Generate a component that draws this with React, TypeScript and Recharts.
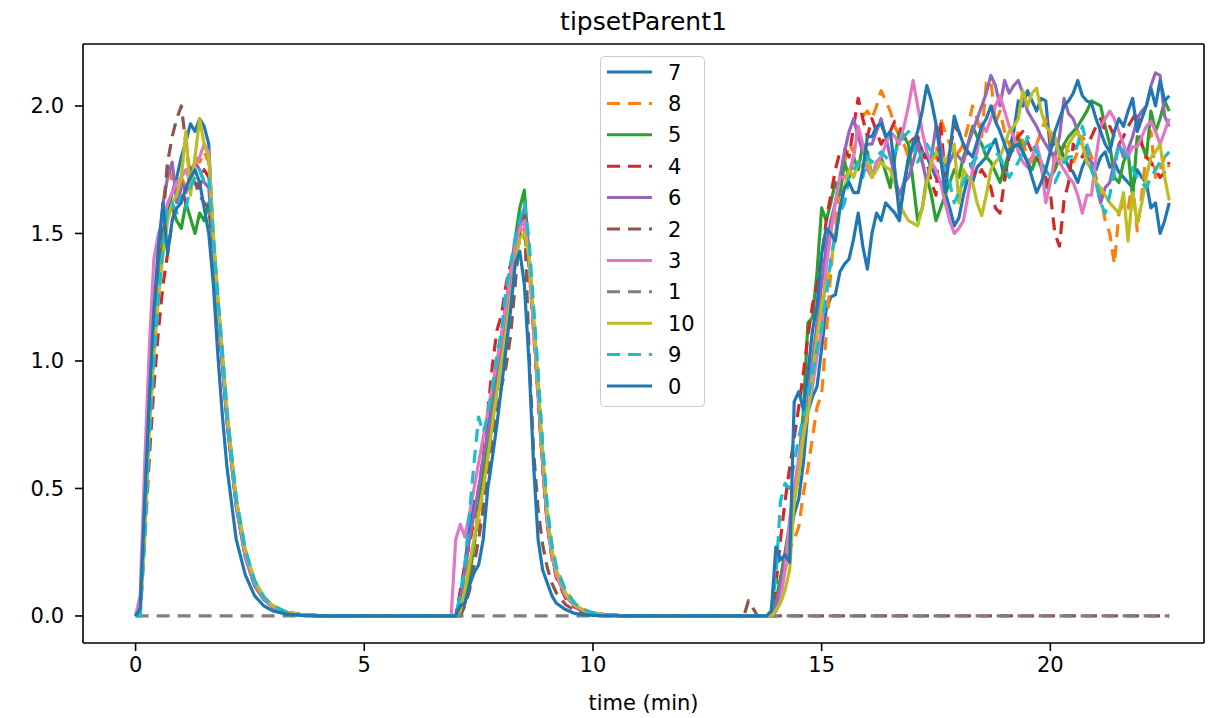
import React from 'react';
import { Legend, Line, LineChart, ReferenceLine, XAxis, YAxis } from 'recharts';

// x grid (minutes); denser where the curves move
const TIME = [
  0, 0.1, 0.2, 0.3, 0.4, 0.5, 0.6, 0.7, 0.8, 0.9, 1.0, 1.1, 1.2, 1.3, 1.4, 1.5, 1.6, 1.7, 1.8, 1.9, 2.0,
  2.2, 2.4, 2.6, 2.8, 3.0, 3.3, 3.6, 4.0,
  5.0, 6.0, 6.9,
  7.0, 7.1, 7.2, 7.3, 7.4, 7.5, 7.6, 7.7, 7.8, 7.9, 8.0, 8.1, 8.2, 8.3, 8.4, 8.5, 8.6, 8.7, 8.8, 8.9, 9.0, 9.1, 9.2,
  9.4, 9.6, 9.8, 10.0, 10.3, 10.6, 11.0,
  12.0, 13.0, 13.3,
  13.4, 13.5, 13.6, 13.7, 13.8, 13.9, 14.0, 14.1, 14.2, 14.3, 14.4, 14.5, 14.6, 14.7, 14.8, 14.9, 15.0,
  15.1, 15.2, 15.3, 15.4, 15.5, 15.6, 15.7, 15.8, 15.9, 16.0,
  16.1, 16.2, 16.3, 16.4, 16.5, 16.6, 16.7, 16.8, 16.9, 17.0,
  17.1, 17.2, 17.3, 17.4, 17.5, 17.6, 17.7, 17.8, 17.9, 18.0,
  18.1, 18.2, 18.3, 18.4, 18.5, 18.6, 18.7, 18.8, 18.9, 19.0,
  19.1, 19.2, 19.3, 19.4, 19.5, 19.6, 19.7, 19.8, 19.9, 20.0,
  20.1, 20.2, 20.3, 20.4, 20.5, 20.6, 20.7, 20.8, 20.9, 21.0,
  21.1, 21.2, 21.3, 21.4, 21.5, 21.6, 21.7, 21.8, 21.9, 22.0,
  22.1, 22.2, 22.3, 22.4, 22.5, 22.6,
];

const S7 = [
  0, 0.03, 0.42, 0.82, 1.12, 1.33, 1.48, 1.58, 1.66, 1.72, 1.8, 1.86, 1.93, 1.9, 1.95, 1.92, 1.85, 1.45, 1.2, 0.98, 0.76,
  0.44, 0.24, 0.13, 0.07, 0.037, 0.014, 0.005, 0.001,
  0, 0, 0,
  0, 0.08, 0.2, 0.35, 0.45, 0.42, 0.6, 0.72, 0.85, 0.98, 1.1, 1.22, 1.35, 1.45, 1.52, 1.58, 1.4, 1.15, 0.88, 0.6, 0.38, 0.25, 0.16,
  0.08, 0.04, 0.02, 0.01, 0.004, 0.001, 0,
  0, 0, 0,
  0, 0, 0, 0, 0, 0, 0.02, 0.12, 0.2, 0.3, 0.4, 0.46, 0.6, 0.8, 0.86, 0.9, 1.05,
  1.2, 1.25, 1.26, 1.35, 1.38, 1.4, 1.48, 1.58, 1.45, 1.36,
  1.5, 1.58, 1.55, 1.62, 1.6, 1.58, 1.55, 1.7, 1.79, 1.84,
  1.87, 1.82, 1.8, 1.76, 1.72, 1.7, 1.66, 1.6, 1.53, 1.56,
  1.65, 1.72, 1.7, 1.76, 1.78, 1.8, 1.84, 1.87, 1.8, 1.71,
  1.82, 1.9, 2.02, 2.0, 2.06, 2.02, 1.98, 2.03, 2.02, 1.83,
  1.86, 1.84, 1.8, 1.76, 1.74, 1.7, 1.76, 1.8, 1.78, 1.75,
  1.8, 1.82, 1.76, 1.78, 1.74, 1.72, 1.7, 1.68, 1.75, 1.72,
  1.7, 1.6, 1.62, 1.5, 1.55, 1.62,
];

const S8 = [
  0, 0.02, 0.38, 0.78, 1.08, 1.32, 1.55, 1.78, 1.7, 1.66, 1.72, 1.68, 1.75, 1.8, 1.78, 1.82, 1.78, 1.48, 1.24, 1.02, 0.8,
  0.46, 0.26, 0.14, 0.075, 0.04, 0.015, 0.005, 0.001,
  0, 0, 0,
  0, 0.04, 0.14, 0.22, 0.28, 0.35, 0.5, 0.62, 0.75, 0.88, 1.0, 1.12, 1.25, 1.38, 1.5, 1.55, 1.45, 1.2, 0.95, 0.66, 0.42, 0.28, 0.19,
  0.1, 0.05, 0.025, 0.012, 0.005, 0.002, 0,
  0, 0, 0,
  0, 0, 0, 0, 0, 0, 0.03, 0.1, 0.18, 0.26, 0.3, 0.35, 0.48, 0.58, 0.7, 0.82, 0.87,
  1.1, 1.35, 1.52, 1.7, 1.78, 1.85, 1.82, 1.92, 1.96, 1.98,
  1.95, 2.0, 2.06, 2.02, 1.98, 1.92, 1.88, 1.85, 1.8, 1.82,
  1.85, 1.78, 1.72, 1.76, 1.8, 1.95, 1.9, 1.85, 1.8, 1.82,
  1.85, 1.92, 2.0, 1.95, 1.88, 2.09, 2.1, 1.93, 1.98, 1.9,
  1.85, 1.82, 1.9, 1.86, 1.8, 1.78, 1.85, 1.9, 1.95, 1.88,
  1.75, 1.8, 1.85, 1.82, 1.78, 1.82, 1.88, 1.85, 1.8, 1.72,
  1.65, 1.55, 1.5, 1.38, 1.58, 1.62, 1.6, 1.7, 1.51, 1.65,
  1.82, 1.9, 1.72, 1.75, 1.8, 1.76,
];

const S5 = [
  0, 0.03, 0.4, 0.8, 1.1, 1.35, 1.5, 1.58, 1.6, 1.55, 1.52, 1.62, 1.56, 1.5, 1.58, 1.55, 1.62, 1.44, 1.2, 0.99, 0.77,
  0.43, 0.23, 0.12, 0.065, 0.035, 0.013, 0.004, 0.001,
  0, 0, 0,
  0, 0, 0.05, 0.15, 0.28, 0.42, 0.55, 0.68, 0.82, 0.95, 1.08, 1.2, 1.35, 1.48, 1.6, 1.67, 1.42, 1.15, 0.88, 0.6, 0.37, 0.24, 0.16,
  0.08, 0.04, 0.02, 0.01, 0.004, 0.001, 0,
  0, 0, 0,
  0, 0, 0, 0, 0, 0, 0.06, 0.15, 0.25, 0.36, 0.48, 0.6, 0.8, 1.15, 1.17, 1.35, 1.6,
  1.55, 1.62, 1.7, 1.65, 1.78, 1.72, 1.8, 1.75, 1.85, 1.82,
  1.72, 1.78, 1.8, 1.74, 1.68, 1.8, 1.9, 1.88, 1.85, 1.7,
  1.55, 1.6, 1.72, 1.65, 1.55, 1.6, 1.65, 1.7, 1.75, 1.72,
  1.8, 1.85, 1.92, 1.88, 1.85, 1.8, 1.78, 1.74, 1.7, 1.76,
  1.82, 1.85, 1.88, 1.82, 1.78, 1.75, 1.8, 1.76, 1.68, 1.72,
  1.75, 1.8, 1.85, 1.88, 1.9, 1.92, 1.95, 1.98, 2.02, 2.01,
  2.0, 1.92, 1.85, 1.72, 1.7, 1.78, 1.82, 1.64, 1.88, 1.85,
  1.8, 1.98, 1.9, 1.95, 2.02, 1.98,
];

const S4 = [
  0, 0.01, 0.3, 0.62, 0.9, 1.12, 1.3, 1.42, 1.55, 1.62, 1.68, 1.62, 1.7, 1.72, 1.68, 1.75, 1.72, 1.46, 1.22, 1.0, 0.78,
  0.44, 0.24, 0.13, 0.07, 0.037, 0.014, 0.005, 0.001,
  0, 0, 0,
  0, 0.1, 0.2, 0.28, 0.38, 0.5, 0.62, 0.8, 0.98, 1.12, 1.18, 1.3, 1.38, 1.45, 1.5, 1.5, 1.38, 1.12, 0.86, 0.58, 0.36, 0.23, 0.15,
  0.07, 0.035, 0.017, 0.008, 0.003, 0.001, 0,
  0, 0, 0,
  0, 0, 0, 0, 0, 0.02, 0.12, 0.3, 0.45, 0.58, 0.7, 0.82, 0.95, 1.1, 1.22, 1.3, 1.4,
  1.55, 1.65, 1.75, 1.82, 1.83, 1.8, 1.92, 2.03, 1.95, 1.88,
  1.95, 1.9, 1.85, 1.88, 1.9, 1.94, 1.92, 1.88, 1.85, 1.87,
  1.88, 1.82, 1.78, 1.7, 1.65, 1.94, 1.72, 1.82, 1.92, 1.9,
  1.85, 1.8, 1.75, 1.72, 1.75, 1.72, 1.68, 1.6, 1.58, 1.71,
  1.8, 1.85, 1.88, 1.9, 1.86, 1.82, 1.8, 1.78, 1.72, 1.66,
  1.5, 1.45, 1.63, 1.7, 1.85, 1.82, 1.8, 1.84, 1.88, 1.92,
  1.95, 1.9, 1.92, 1.88, 1.85, 1.88, 1.92, 1.95, 1.98, 1.85,
  1.8, 1.78, 1.75, 1.72, 1.74, 1.78,
];

const S6 = [
  0, 0.03, 0.45, 0.85, 1.15, 1.4, 1.62, 1.72, 1.78, 1.62, 1.7, 1.66, 1.74, 1.78, 1.75, 1.7, 1.68, 1.45, 1.2, 0.98, 0.76,
  0.43, 0.23, 0.12, 0.065, 0.035, 0.013, 0.004, 0.001,
  0, 0, 0,
  0, 0.06, 0.18, 0.3, 0.4, 0.5, 0.62, 0.72, 0.8, 0.92, 1.05, 1.2, 1.32, 1.45, 1.55, 1.6, 1.42, 1.15, 0.88, 0.6, 0.37, 0.24, 0.16,
  0.08, 0.04, 0.02, 0.01, 0.004, 0.001, 0,
  0, 0, 0,
  0, 0, 0, 0, 0, 0, 0.04, 0.12, 0.22, 0.33, 0.45, 0.58, 0.72, 0.85, 1.0, 1.15, 1.3,
  1.45, 1.55, 1.62, 1.72, 1.82, 1.9, 1.95, 1.88, 1.82, 1.85,
  1.85, 1.9, 1.95, 1.88, 1.8, 1.72, 1.65, 1.7, 1.72, 1.78,
  1.85, 1.78, 1.7, 1.8, 1.92, 1.85, 1.75, 1.78, 1.82, 1.8,
  1.78, 1.85, 1.9, 1.95, 2.0, 2.05, 2.12, 2.08, 2.0, 2.1,
  2.05, 2.08, 2.1, 2.05, 1.98, 1.95, 1.92, 1.88, 1.85, 1.82,
  1.8, 1.88, 2.03, 1.97, 1.95, 1.9, 1.85, 1.8, 1.78, 1.7,
  1.62, 1.68, 1.7, 1.78, 1.85, 1.8, 1.83, 1.88, 1.95, 1.98,
  2.0, 2.08, 2.13, 2.12, 1.96, 1.92,
];

const S2 = [
  0, 0.02, 0.42, 0.82, 1.12, 1.38, 1.58, 1.78, 1.88, 1.95, 2.0, 1.85, 1.72, 1.7, 1.65, 1.62, 1.6, 1.42, 1.2, 0.99, 0.78,
  0.45, 0.25, 0.13, 0.07, 0.038, 0.015, 0.005, 0.001,
  0, 0, 0,
  0, 0, 0.04, 0.1, 0.2, 0.3, 0.42, 0.55, 0.68, 0.8, 0.9, 0.98, 1.1, 1.3, 1.5, 1.57, 1.05, 0.65, 0.42, 0.28, 0.19, 0.13, 0.09,
  0.045, 0.022, 0.011, 0.005, 0.002, 0, 0,
  0, 0, 0,
  0.06, 0.03, 0, 0, 0, 0, 0, 0, 0, 0, 0, 0, 0, 0, 0, 0, 0,
  0, 0, 0, 0, 0, 0, 0, 0, 0, 0,
  0, 0, 0, 0, 0, 0, 0, 0, 0, 0,
  0, 0, 0, 0, 0, 0, 0, 0, 0, 0,
  0, 0, 0, 0, 0, 0, 0, 0, 0, 0,
  0, 0, 0, 0, 0, 0, 0, 0, 0, 0,
  0, 0, 0, 0, 0, 0, 0, 0, 0, 0,
  0, 0, 0, 0, 0, 0, 0, 0, 0, 0,
  0, 0, 0, 0, 0, 0,
];

const S3 = [
  0, 0.08, 0.6, 1.05, 1.4, 1.5, 1.55, 1.62, 1.66, 1.7, 1.72, 1.75, 1.7, 1.78, 1.8, 1.85, 1.82, 1.48, 1.22, 1.0, 0.78,
  0.44, 0.24, 0.13, 0.07, 0.037, 0.014, 0.005, 0.001,
  0, 0, 0,
  0.3, 0.36, 0.31, 0.4, 0.5, 0.6, 0.7, 0.8, 0.9, 1.0, 1.1, 1.22, 1.35, 1.45, 1.52, 1.55, 1.4, 1.13, 0.87, 0.6, 0.37, 0.24, 0.16,
  0.08, 0.04, 0.02, 0.01, 0.004, 0.001, 0,
  0, 0, 0,
  0, 0, 0, 0, 0, 0, 0.02, 0.06, 0.18, 0.38, 0.5, 0.62, 0.72, 0.8, 0.9, 1.02, 1.12,
  1.37, 1.5, 1.62, 1.72, 1.72, 1.74, 1.8, 1.92, 1.85, 1.75,
  1.72, 1.78, 1.8, 1.85, 1.9, 1.88, 1.85, 1.92, 2.0, 2.1,
  2.0, 1.9, 1.82, 1.78, 1.75, 1.7, 1.62, 1.55, 1.5, 1.52,
  1.55, 1.65, 1.75, 1.82, 1.93, 1.9, 1.95, 2.0, 2.04, 1.98,
  1.92, 1.88, 1.82, 1.78, 1.76, 1.8, 1.85, 1.78, 1.62, 1.7,
  1.8, 1.78, 1.75, 1.72, 1.7, 1.65, 1.58, 1.65, 1.65, 1.8,
  1.92, 1.95, 1.98, 1.95, 1.9, 1.85, 1.8, 1.84, 1.84, 1.88,
  1.92, 1.94, 1.9, 1.85, 1.9, 1.95,
];

const S1 = [
  0, 0, 0, 0, 0, 0, 0, 0, 0, 0, 0, 0, 0, 0, 0, 0, 0, 0, 0, 0, 0,
  0, 0, 0, 0, 0, 0, 0, 0,
  0, 0, 0,
  0, 0, 0, 0, 0, 0, 0, 0, 0, 0, 0, 0, 0, 0, 0, 0, 0, 0, 0, 0, 0, 0, 0,
  0, 0, 0, 0, 0, 0, 0,
  0, 0, 0,
  0, 0, 0, 0, 0, 0, 0, 0, 0, 0, 0, 0, 0, 0, 0, 0, 0,
  0, 0, 0, 0, 0, 0, 0, 0, 0, 0,
  0, 0, 0, 0, 0, 0, 0, 0, 0, 0,
  0, 0, 0, 0, 0, 0, 0, 0, 0, 0,
  0, 0, 0, 0, 0, 0, 0, 0, 0, 0,
  0, 0, 0, 0, 0, 0, 0, 0, 0, 0,
  0, 0, 0, 0, 0, 0, 0, 0, 0, 0,
  0, 0, 0, 0, 0, 0, 0, 0, 0, 0,
  0, 0, 0, 0, 0, 0,
];

const S10 = [
  0, 0, 0.3, 0.72, 1.02, 1.25, 1.42, 1.55, 1.62, 1.65, 1.72, 1.9, 1.65, 1.8, 1.95, 1.85, 1.8, 1.5, 1.25, 1.03, 0.8,
  0.46, 0.26, 0.14, 0.075, 0.04, 0.015, 0.005, 0.001,
  0, 0, 0,
  0, 0.02, 0.1, 0.2, 0.3, 0.4, 0.5, 0.62, 0.75, 0.88, 1.0, 1.12, 1.25, 1.38, 1.48, 1.5, 1.42, 1.18, 0.92, 0.64, 0.4, 0.26, 0.18,
  0.09, 0.045, 0.022, 0.011, 0.004, 0.001, 0,
  0, 0, 0,
  0, 0, 0, 0, 0, 0, 0.02, 0.05, 0.1, 0.18, 0.45, 0.55, 0.7, 0.8, 0.95, 1.1, 1.22,
  1.3, 1.38, 1.5, 1.6, 1.68, 1.75, 1.72, 1.78, 1.76, 1.8,
  1.72, 1.75, 1.78, 1.76, 1.75, 1.7, 1.62, 1.58, 1.55, 1.54,
  1.53, 1.6, 1.7, 1.78, 1.82, 1.8, 1.78, 1.82, 1.85, 1.62,
  1.75, 1.72, 1.7, 1.62, 1.57, 1.65, 1.75, 1.78, 1.8, 1.85,
  1.9, 1.92, 1.95, 2.06, 2.0, 2.05, 2.07, 1.98, 1.92, 1.9,
  1.88, 1.8, 1.78, 1.85, 1.88, 1.9, 1.85, 1.78, 1.75, 1.7,
  1.68, 1.65, 1.62, 1.6, 1.58, 1.66, 1.47, 1.66, 1.54, 1.62,
  1.72, 1.8, 1.82, 1.85, 1.72, 1.63,
];

const S9 = [
  0, 0, 0.32, 0.7, 1.0, 1.25, 1.45, 1.6, 1.62, 1.58, 1.65, 1.6, 1.68, 1.72, 1.75, 1.7, 1.72, 1.48, 1.25, 1.03, 0.8,
  0.46, 0.26, 0.14, 0.075, 0.04, 0.015, 0.005, 0.001,
  0, 0, 0,
  0, 0.08, 0.2, 0.4, 0.6, 0.78, 0.72, 0.78, 0.9, 1.02, 1.12, 1.28, 1.38, 1.48, 1.55, 1.62, 1.48, 1.22, 0.95, 0.67, 0.43, 0.28, 0.19,
  0.1, 0.05, 0.025, 0.012, 0.005, 0.002, 0,
  0, 0, 0,
  0, 0, 0, 0, 0, 0.02, 0.15, 0.45, 0.52, 0.5, 0.6, 0.7, 0.78, 0.85, 0.95, 1.05, 1.13,
  1.25, 1.4, 1.5, 1.58, 1.62, 1.72, 1.75, 1.78, 1.72, 1.8,
  1.78, 1.8, 1.82, 1.8, 1.78, 1.82, 1.85, 1.88, 1.9, 1.85,
  1.78, 1.82, 1.85, 1.82, 1.8, 1.78, 1.75, 1.7, 1.62, 1.66,
  1.7, 1.74, 1.78, 1.8, 1.82, 1.84, 1.85, 1.82, 1.8, 1.76,
  1.72, 1.75, 1.78, 1.82, 1.88, 1.85, 1.82, 1.78, 1.75, 1.72,
  1.7, 1.74, 1.78, 1.8, 1.8, 1.85, 1.92, 1.85, 1.75, 1.7,
  1.62, 1.58, 1.65, 1.75, 1.85, 1.82, 1.8, 1.75, 1.72, 1.7,
  1.68, 1.72, 1.75, 1.78, 1.8, 1.82,
];

const S0 = [
  0, 0.03, 0.45, 0.85, 1.2, 1.45, 1.62, 1.42, 1.55, 1.6, 1.62, 1.68, 1.72, 1.75, 1.7, 1.6, 1.5, 1.3, 1.02, 0.78, 0.58,
  0.3, 0.16, 0.08, 0.04, 0.02, 0.007, 0.002, 0,
  0, 0, 0,
  0, 0.04, 0.05, 0.12, 0.17, 0.2, 0.3, 0.5, 0.62, 0.75, 0.9, 1.05, 1.2, 1.38, 1.43, 1.3, 1.0, 0.6, 0.3, 0.18, 0.13, 0.08, 0.05,
  0.025, 0.01, 0.005, 0.002, 0, 0, 0,
  0, 0, 0,
  0, 0, 0, 0, 0, 0.02, 0.27, 0.22, 0.24, 0.21, 0.84, 0.88, 0.81, 0.95, 1.12, 1.22, 1.42,
  1.52, 1.5, 1.47, 1.6, 1.68, 1.7, 1.66, 1.66, 1.75, 1.88,
  1.88, 1.92, 1.93, 1.88, 1.9, 1.75, 1.57, 1.68, 1.8, 1.85,
  1.9, 1.98, 2.08, 2.02, 1.93, 1.8, 1.66, 1.82, 1.96, 1.9,
  1.85, 1.82, 1.8, 1.86, 1.92, 1.95, 2.0, 1.94, 1.9, 1.85,
  1.8, 1.84, 1.85, 1.82, 1.78, 1.72, 1.66, 1.7, 1.75, 1.82,
  1.9, 1.95, 2.0, 2.02, 2.05, 2.1, 2.04, 2.02, 2.01, 1.95,
  1.9, 1.85, 1.82, 1.9, 1.95, 1.92, 1.98, 2.03, 1.9, 1.95,
  2.0, 2.07, 2.0, 2.1, 2.02, 2.04,
];

// legend order = draw order
const SERIES = [
  { key: 's7', label: '7', values: S7, color: '#1f77b4', dashed: false },
  { key: 's8', label: '8', values: S8, color: '#ff7f0e', dashed: true },
  { key: 's5', label: '5', values: S5, color: '#2ca02c', dashed: false },
  { key: 's4', label: '4', values: S4, color: '#d62728', dashed: true },
  { key: 's6', label: '6', values: S6, color: '#9467bd', dashed: false },
  { key: 's2', label: '2', values: S2, color: '#8c564b', dashed: true },
  { key: 's3', label: '3', values: S3, color: '#e377c2', dashed: false },
  { key: 's1', label: '1', values: S1, color: '#7f7f7f', dashed: true },
  { key: 's10', label: '10', values: S10, color: '#bcbd22', dashed: false },
  { key: 's9', label: '9', values: S9, color: '#17becf', dashed: true },
  { key: 's0', label: '0', values: S0, color: '#1f77b4', dashed: false },
];

const X_TICKS = [0, 5, 10, 15, 20];
const Y_TICKS = [0, 0.5, 1, 1.5, 2];
const X_DOMAIN: [number, number] = [-1.15, 23.36];
const Y_DOMAIN: [number, number] = [-0.106, 2.243];

const FONT = 'DejaVu Sans';
const DASH = '13 8';

const rows = TIME.map((t, i) => {
  const row: Record<string, number> = { t };
  SERIES.forEach((s) => {
    row[s.key] = s.values[i];
  });
  return row;
});

const LegendBox = () => (
  <svg width={106} height={352}>
    <rect x={0.5} y={0.5} width={104} height={350} rx={4} fill="rgba(255,255,255,0.8)" stroke="#cccccc" />
    {SERIES.map((s, i) => {
      const cy = 16 + i * 31.4;
      return (
        <g key={s.key}>
          <line
            x1={7}
            x2={52}
            y1={cy}
            y2={cy}
            stroke={s.color}
            strokeWidth={3}
            strokeDasharray={s.dashed ? DASH : undefined}
          />
          <text x={68} y={cy + 7.5} fontSize={21} fontFamily={FONT} fill="#000">
            {s.label}
          </text>
        </g>
      );
    })}
  </svg>
);

const tickStyle = { fill: '#000', fontSize: 21, fontFamily: FONT };
const axisStroke = { stroke: '#000', strokeWidth: 1.6 };

export default function App() {
  return (
    <div style={{ position: 'absolute', left: 0, top: 0, width: 1217, height: 718, background: '#fff' }}>
      <div
        style={{
          position: 'absolute',
          left: 83,
          width: 1121,
          top: 7,
          textAlign: 'center',
          fontFamily: FONT,
          fontSize: 25,
          color: '#000',
          zIndex: 2,
        }}
      >
        tipsetParent1
      </div>
      <div
        style={{
          position: 'absolute',
          left: 83,
          width: 1121,
          top: 691,
          textAlign: 'center',
          fontFamily: FONT,
          fontSize: 21,
          color: '#000',
          zIndex: 2,
        }}
      >
        time (min)
      </div>
      <LineChart width={1217} height={718} data={rows} margin={{ top: 44, right: 13, bottom: 30, left: 23 }}>
        <XAxis
          dataKey="t"
          type="number"
          domain={X_DOMAIN}
          allowDataOverflow
          ticks={X_TICKS}
          height={45}
          tick={tickStyle}
          tickSize={8}
          tickMargin={6}
          axisLine={axisStroke}
          tickLine={axisStroke}
        />
        <YAxis
          type="number"
          domain={Y_DOMAIN}
          allowDataOverflow
          ticks={Y_TICKS}
          width={60}
          tick={tickStyle}
          tickSize={8}
          tickMargin={11}
          tickFormatter={(v: number) => v.toFixed(1)}
          axisLine={axisStroke}
          tickLine={axisStroke}
        />
        <ReferenceLine x={X_DOMAIN[1]} stroke="#000" strokeWidth={1.6} />
        <ReferenceLine y={Y_DOMAIN[1]} stroke="#000" strokeWidth={1.6} />
        {SERIES.map((s) => (
          <Line
            key={s.key}
            type="linear"
            dataKey={s.key}
            name={s.label}
            stroke={s.color}
            strokeWidth={3.2}
            strokeDasharray={s.dashed ? DASH : undefined}
            strokeLinejoin="round"
            dot={false}
            activeDot={false}
            isAnimationActive={false}
          />
        ))}
        <Legend
          layout="vertical"
          align="center"
          verticalAlign="middle"
          wrapperStyle={{ left: 600, top: 56, width: 106, height: 352 }}
          content={() => <LegendBox />}
        />
      </LineChart>
    </div>
  );
}
